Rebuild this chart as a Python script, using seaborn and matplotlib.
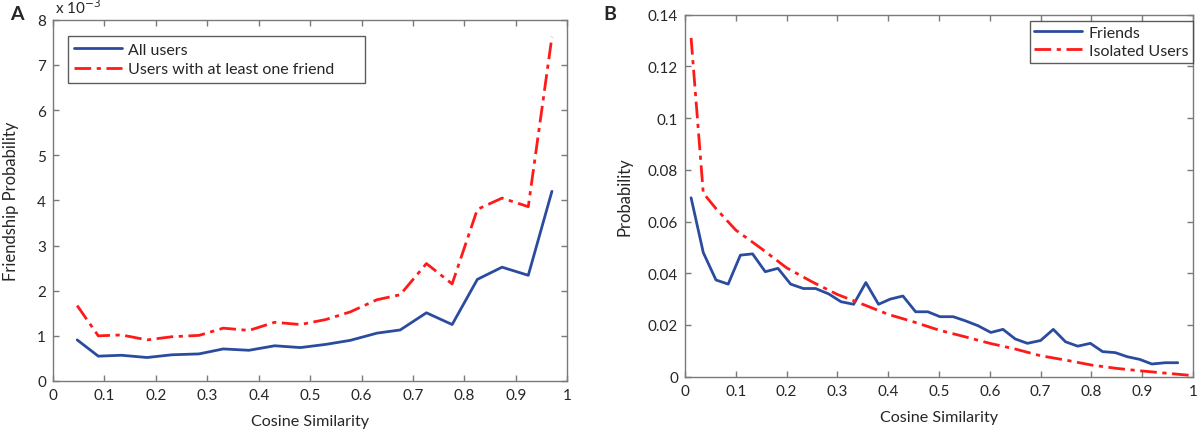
import numpy as np
import pandas as pd
import matplotlib
matplotlib.use("Agg")
import matplotlib.pyplot as plt
import seaborn as sns
from matplotlib.ticker import FuncFormatter, MultipleLocator

# Panel A - friendship probability (values in units of 1e-3)
sim_a = [0.047, 0.088, 0.133, 0.183, 0.231, 0.284, 0.331, 0.381, 0.431, 0.481,
         0.530, 0.578, 0.630, 0.675, 0.726, 0.776, 0.825, 0.873, 0.924, 0.970]
prob_all = [0.91, 0.55, 0.57, 0.52, 0.58, 0.60, 0.71, 0.68, 0.78, 0.74,
            0.81, 0.90, 1.06, 1.13, 1.51, 1.25, 2.25, 2.52, 2.34, 4.20]
prob_one_friend = [1.67, 1.00, 1.02, 0.91, 0.98, 1.01, 1.17, 1.12, 1.30, 1.25,
                   1.36, 1.53, 1.80, 1.91, 2.60, 2.15, 3.80, 4.05, 3.86, 7.62]

# Panel B - similarity distribution
sim_b = [0.012, 0.036, 0.061, 0.085, 0.109, 0.133, 0.158, 0.183, 0.208, 0.233,
         0.257, 0.283, 0.307, 0.332, 0.356, 0.381, 0.404, 0.429, 0.454, 0.478,
         0.502, 0.528, 0.552, 0.577, 0.602, 0.626, 0.650, 0.674, 0.700, 0.725,
         0.749, 0.773, 0.798, 0.822, 0.847, 0.871, 0.895, 0.919, 0.945, 0.970]
prob_friends = [0.0692, 0.0480, 0.0374, 0.0358, 0.0470, 0.0475, 0.0406, 0.0419, 0.0358, 0.0341,
                0.0341, 0.0320, 0.0290, 0.0280, 0.0364, 0.0280, 0.0300, 0.0312, 0.0251, 0.0251,
                0.0232, 0.0232, 0.0216, 0.0197, 0.0171, 0.0183, 0.0146, 0.0129, 0.0140, 0.0183,
                0.0135, 0.0118, 0.0129, 0.0097, 0.0093, 0.0077, 0.0067, 0.0049, 0.0054, 0.0054]
sim_iso = [0.012, 0.036, 0.061, 0.1, 0.15, 0.2, 0.25, 0.3, 0.35, 0.4, 0.45, 0.5,
           0.55, 0.6, 0.65, 0.7, 0.75, 0.8, 0.85, 0.9, 0.95, 0.995]
prob_isolated = [0.1310, 0.0710, 0.0650, 0.0567, 0.0496, 0.0421, 0.0367, 0.0318, 0.0280, 0.0241,
                 0.0212, 0.0180, 0.0155, 0.0129, 0.0107, 0.0081, 0.0064, 0.0045, 0.0032, 0.0022,
                 0.0013, 0.0005]

blue = '#2b4c9e'
red = '#ff1a1a'
gray = '#7a7a7a'

sns.set_style('white')
plt.rcParams['font.family'] = ['Lato', 'DejaVu Sans']

fig = plt.figure(figsize=(11.99, 4.31), dpi=100)
ax1 = fig.add_axes([0.0442, 0.1137, 0.4290, 0.8383])
ax2 = fig.add_axes([0.5713, 0.1237, 0.4237, 0.8399])

sns.lineplot(x=sim_a, y=prob_all, ax=ax1, color=blue, linewidth=2, label='All users')
sns.lineplot(x=sim_a, y=prob_one_friend, ax=ax1, color=red, linewidth=2,
             label='Users with at least one friend')
ax1.lines[1].set_dashes((6, 2, 1.5, 2))

sns.lineplot(x=sim_b, y=prob_friends, ax=ax2, color=blue, linewidth=2, label='Friends')
sns.lineplot(x=sim_iso, y=prob_isolated, ax=ax2, color=red, linewidth=2, label='Isolated Users')
ax2.lines[1].set_dashes((6, 2, 1.5, 2))

fmt = FuncFormatter(lambda v, p: '%g' % round(v, 4))
for ax in (ax1, ax2):
    ax.set_xlim(0, 1)
    ax.xaxis.set_major_locator(MultipleLocator(0.1))
    ax.xaxis.set_major_formatter(fmt)
    ax.yaxis.set_major_formatter(fmt)
    ax.tick_params(direction='in', length=4, width=1, color=gray, top=True, right=True,
                   labelsize=11, pad=5, bottom=True, left=True)
    for s in ax.spines.values():
        s.set_color(gray)
        s.set_linewidth(1)
    ax.set_xlabel('Cosine Similarity', fontsize=11.6, labelpad=9)
    ax.grid(False)

ax1.set_ylim(0, 8)
ax1.yaxis.set_major_locator(MultipleLocator(1))
ax1.set_ylabel('Friendship Probability', fontsize=12, labelpad=13)
ax1.text(0.004, 1.01, r'x 10$^{-3}$', transform=ax1.transAxes, fontsize=11,
         ha='left', va='bottom')

ax2.set_ylim(0, 0.14)
ax2.yaxis.set_major_locator(MultipleLocator(0.02))
ax2.set_ylabel('Probability', fontsize=12, labelpad=11)

# matlab style legend box, wider than its text in panel A
leg1 = ax1.legend(loc='upper left', bbox_to_anchor=(0.0286, 0.0, 0.578, 0.955),
                  mode='expand', fontsize=11.5, frameon=True, fancybox=False,
                  borderaxespad=0, handlelength=3.0, handletextpad=0.4,
                  borderpad=0.4, labelspacing=0.35)
leg2 = ax2.legend(loc='upper right', bbox_to_anchor=(1.0, 0.983), fontsize=11.5,
                  frameon=True, fancybox=False, borderaxespad=0, handlelength=3.0,
                  handletextpad=0.4, borderpad=0.3, labelspacing=0.25)
for leg in (leg1, leg2):
    leg.get_frame().set_edgecolor('#333333')
    leg.get_frame().set_linewidth(1)

fig.text(10 / 1199, 1 - 15 / 431, 'A', fontsize=14, fontweight='bold', ha='left', va='center')
fig.text(603 / 1199, 1 - 14 / 431, 'B', fontsize=14, fontweight='bold', ha='left', va='center')

fig.savefig('out.png', dpi=100)
